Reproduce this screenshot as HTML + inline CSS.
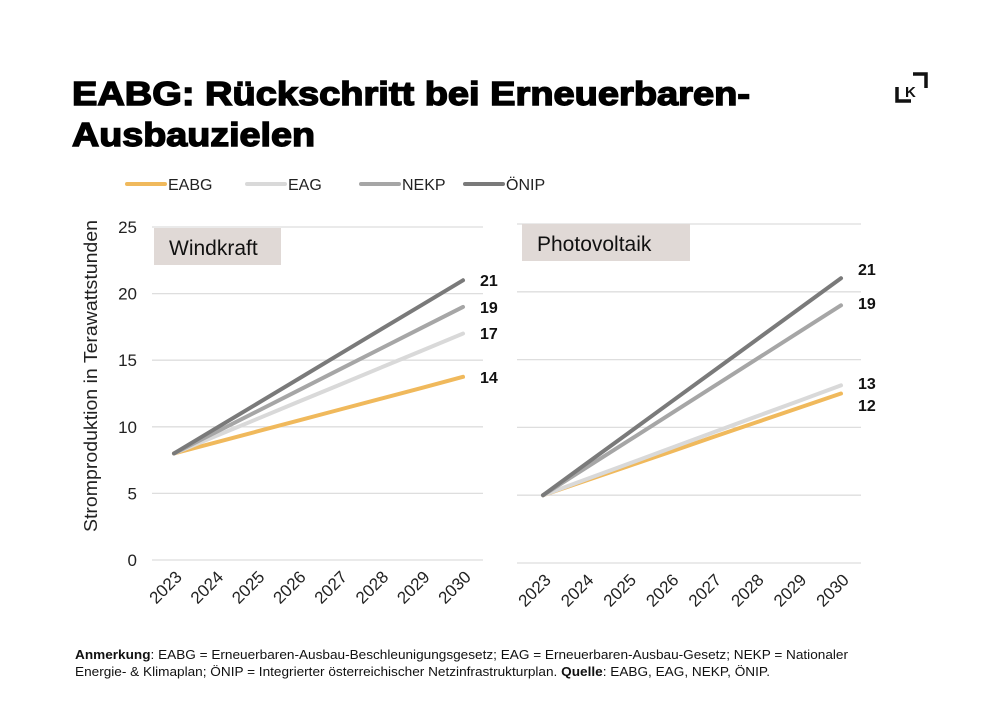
<!DOCTYPE html>
<html><head><meta charset="utf-8"><style>
body{margin:0;background:#fff;}
svg{display:block;font-family:"Liberation Sans",sans-serif;}
</style></head><body>
<svg width="1000" height="714" viewBox="0 0 1000 714">
<text x="72" y="105" font-size="33" font-weight="bold" stroke="#000" stroke-width="1.4" textLength="678" lengthAdjust="spacingAndGlyphs" fill="#000">EABG: Rückschritt bei Erneuerbaren-</text>
<text x="72" y="146" font-size="33" font-weight="bold" stroke="#000" stroke-width="1.4" textLength="243" lengthAdjust="spacingAndGlyphs" fill="#000">Ausbauzielen</text>
<g fill="none" stroke="#111" stroke-width="3.5">
<path d="M897 87 V101 H911"/><path d="M913 74 H926 V88"/>
<text x="905" y="97" font-size="15" font-weight="bold" fill="#111" stroke="none">K</text>
</g>
<g id="legend"></g>
<g id="c1"></g><g id="c2"></g>
<text transform="translate(97,376) rotate(-90)" text-anchor="middle" font-size="18" textLength="312" lengthAdjust="spacingAndGlyphs" fill="#222">Stromproduktion in Terawattstunden</text>
<text x="75" y="659" font-size="13" textLength="773" lengthAdjust="spacingAndGlyphs" fill="#111"><tspan font-weight="bold">Anmerkung</tspan>: EABG = Erneuerbaren-Ausbau-Beschleunigungsgesetz; EAG = Erneuerbaren-Ausbau-Gesetz; NEKP = Nationaler</text>
<text x="75" y="676" font-size="13" textLength="695" lengthAdjust="spacingAndGlyphs" fill="#111">Energie- &amp; Klimaplan; ÖNIP = Integrierter österreichischer Netzinfrastrukturplan. <tspan font-weight="bold">Quelle</tspan>: EABG, EAG, NEKP, ÖNIP.</text>
</svg>
<script>
const years=["2023","2024","2025","2026","2027","2028","2029","2030"];
const seriesNames=["EABG","EAG","NEKP","ÖNIP"];
const windEABG=[8,8.82,9.64,10.46,11.28,12.1,12.92,13.75];
const windEAG=[8,9.29,10.57,11.86,13.14,14.43,15.71,17];
const windNEKP=[8,9.57,11.14,12.71,14.29,15.86,17.43,19];
const windONIP=[8,9.86,11.71,13.57,15.43,17.29,19.14,21];
const pvEABG=[5,6.07,7.14,8.21,9.29,10.36,11.43,12.5];
const pvEAG=[5,6.16,7.31,8.47,9.63,10.79,11.94,13.1];
const pvNEKP=[5,7,9,11,13,15,17,19];
const pvONIP=[5,7.29,9.57,11.86,14.14,16.43,18.71,21];
const windLabels=["14","17","19","21"];
const pvLabels=["12","13","19","21"];
const yTicks=[0,5,10,15,20,25];
const colors=["#f0b95c","#d9d9d9","#a6a6a6","#7a7a7a"];
const NS="http://www.w3.org/2000/svg";
function mk(tag,attrs,parent){const e=document.createElementNS(NS,tag);for(const k in attrs)e.setAttribute(k,attrs[k]);parent.appendChild(e);return e;}
const lg=document.getElementById('legend');
const lx=[127,247,361,465];
seriesNames.forEach((n,i)=>{
 const l=mk('line',{x1:lx[i],x2:lx[i]+38,y1:184,y2:184,stroke:colors[i],'stroke-width':4,'stroke-linecap':'round'},lg);
 
 
 const t=mk('text',{x:lx[i]+41,y:190,'font-size':16,fill:'#222'},lg);t.textContent=n;
 
 
});
function chart(g,cfg){
 const xs=i=>cfg.x0+(cfg.x1-cfg.x0)*i/(years.length-1);
 const ys=v=>cfg.y0-(cfg.y0-cfg.y25)*v/25;
 yTicks.forEach(t=>{
  const l=mk('line',{x1:cfg.gx0,x2:cfg.gx1,y1:ys(t),y2:ys(t),stroke:'#dedede','stroke-width':1.3},g);
  
  
  if(cfg.ticks){const tx=mk('text',{x:137,y:ys(t)+6,'text-anchor':'end','font-size':17,fill:'#222'},g);tx.textContent=t;
  
  }
 });
 years.forEach((y,i)=>{
  const t=mk('text',{transform:`translate(${xs(i)+9},${cfg.y0+18}) rotate(-45)`,'text-anchor':'end','font-size':17,fill:'#222'},g);t.textContent=y;
  
  
 });
 const box=mk('rect',{x:cfg.bx,y:cfg.by,width:cfg.bw,height:37,fill:'#e0d9d6'},g);
 
 
 const bt=mk('text',{x:cfg.bx+15,y:cfg.by+27,'font-size':21,fill:'#111'},g);bt.textContent=cfg.title;
 
 
 cfg.series.forEach((s,k)=>{
  const p=mk('polyline',{points:s.map((v,i)=>xs(i)+','+ys(v)).join(' '),fill:'none',stroke:colors[k],'stroke-width':4,'stroke-linecap':'round'},g);
  
  
 });
 cfg.labels.forEach((lab,k)=>{
  const t=mk('text',{x:cfg.x1+17,y:cfg.labY[k],'font-size':16,'font-weight':'bold',fill:'#111'},g);t.textContent=lab;
  
  
 });
}
chart(document.getElementById('c1'),{x0:174,x1:463,y0:560,y25:227,gx0:152,gx1:483,ticks:true,bx:154,by:228,bw:127,title:"Windkraft",
 series:[windEABG,windEAG,windNEKP,windONIP],labels:windLabels,labY:[383,339,313,286]});
chart(document.getElementById('c2'),{x0:543,x1:841,y0:563,y25:224,gx0:517,gx1:861,ticks:false,bx:522,by:224,bw:168,title:"Photovoltaik",
 series:[pvEABG,pvEAG,pvNEKP,pvONIP],labels:pvLabels,labY:[411,389,309,275]});
</script>
</body></html>
